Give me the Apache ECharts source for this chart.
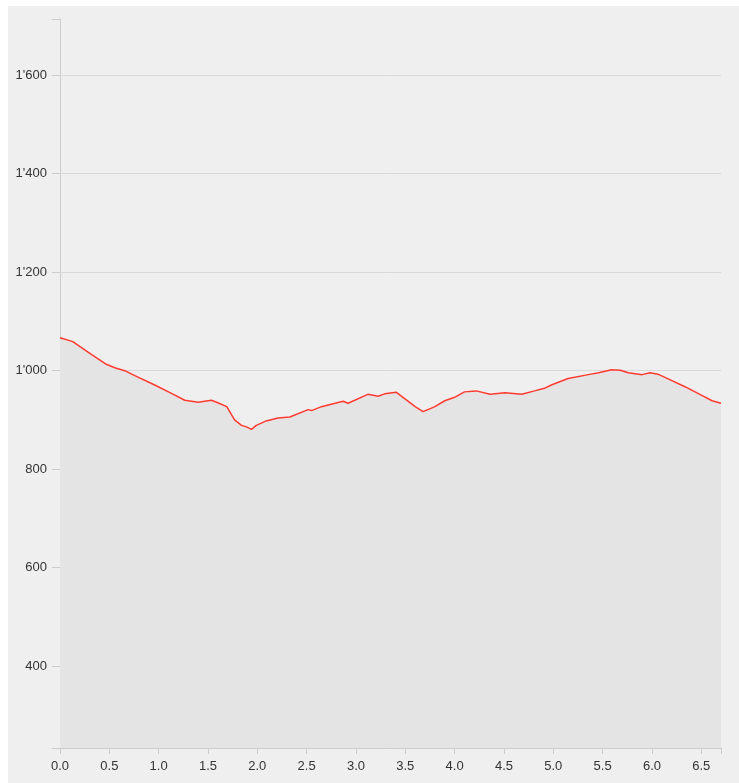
<!DOCTYPE html>
<html>
<head>
<meta charset="utf-8">
<script src="https://cdn.jsdelivr.net/npm/echarts@6/dist/echarts.min.js"></script>
<style>
html,body{margin:0;padding:0;background:#ffffff;}
#chart{position:absolute;left:8px;top:6px;width:731px;height:777px;}
</style>
</head>
<body>
<div id="chart"></div>
<script>
// distance (km)
var distance = [0, 0.13, 0.28, 0.47, 0.555, 0.656, 0.758, 0.96, 1.13, 1.265, 1.40, 1.535, 1.60, 1.69, 1.77, 1.84, 1.89, 1.94, 1.99, 2.09, 2.21, 2.33, 2.515, 2.55, 2.65, 2.87, 2.92, 3.12, 3.225, 3.29, 3.41, 3.60, 3.68, 3.80, 3.90, 4.00, 4.10, 4.22, 4.36, 4.51, 4.68, 4.81, 4.92, 4.98, 5.15, 5.355, 5.46, 5.59, 5.68, 5.76, 5.90, 5.98, 6.06, 6.17, 6.34, 6.505, 6.61, 6.70];
// elevation (m)
var elevation = [1067, 1059, 1038, 1013, 1006, 1000, 990, 971, 954, 940, 936, 940, 935, 927, 900, 889, 886, 881, 889, 898, 904, 906, 921, 919, 927, 938, 934, 952, 948, 953, 956, 927, 917, 927, 939, 946, 957, 959, 952, 955, 952, 959, 965, 971, 984, 992, 996, 1002, 1001, 996, 992, 996, 993, 983, 967, 950, 939, 934];
var yTickLabels = [400, 600, 800, 1000, 1200, 1400, 1600];
var xTickLabels = [0, 0.5, 1, 1.5, 2, 2.5, 3, 3.5, 4, 4.5, 5, 5.5, 6, 6.5];

var yMin = 234, yMax = 1714, xMin = 0, xMax = 6.70;

function fmtThousands(v) {
  var s = String(Math.round(v));
  return s.replace(/\B(?=(\d{3})+(?!\d))/g, "'");
}

var data = distance.map(function (d, i) { return [d, elevation[i]]; });
var chart = echarts.init(document.getElementById('chart'));
var axisColor = '#cccccc';
chart.setOption({
  backgroundColor: '#efefef',
  animation: false,
  grid: { left: 52, right: 18, top: 13, bottom: 35 },
  xAxis: {
    type: 'value',
    min: xMin, max: xMax,
    axisLine: { show: true, onZero: false, lineStyle: { color: axisColor, width: 1 } },
    axisTick: { show: true, length: 6, lineStyle: { color: axisColor }, customValues: xTickLabels.concat([xMax]) },
    axisLabel: {
      customValues: xTickLabels,
      formatter: function (v) { return v.toFixed(1); },
      color: '#333333', fontSize: 13, fontFamily: 'Liberation Sans, Arial, sans-serif', margin: 12
    },
    splitLine: { show: false }
  },
  yAxis: {
    type: 'value',
    min: yMin, max: yMax,
    axisLine: { show: true, lineStyle: { color: axisColor, width: 1 } },
    axisTick: { show: true, length: 8, lineStyle: { color: axisColor }, customValues: [yMin].concat(yTickLabels).concat([yMax]) },
    axisLabel: {
      customValues: yTickLabels,
      formatter: fmtThousands,
      color: '#333333', fontSize: 13, fontFamily: 'Liberation Sans, Arial, sans-serif', margin: 13
    },
    splitLine: { show: false }
  },
  series: [{
    type: 'line',
    z: 1,
    data: [],
    silent: true,
    markLine: {
      silent: true,
      symbol: 'none',
      label: { show: false },
      z: 1,
      lineStyle: { color: '#d9d9d9', type: 'solid', width: 1 },
      data: yTickLabels.map(function (v) { return { yAxis: v }; })
    }
  }, {
    type: 'line',
    z: 3,
    data: data,
    showSymbol: false,
    smooth: false,
    lineStyle: { color: '#ff3b30', width: 1.5 },
    areaStyle: { color: '#e4e4e4', opacity: 1, origin: 'start' }
  }]
});
</script>
</body>
</html>
